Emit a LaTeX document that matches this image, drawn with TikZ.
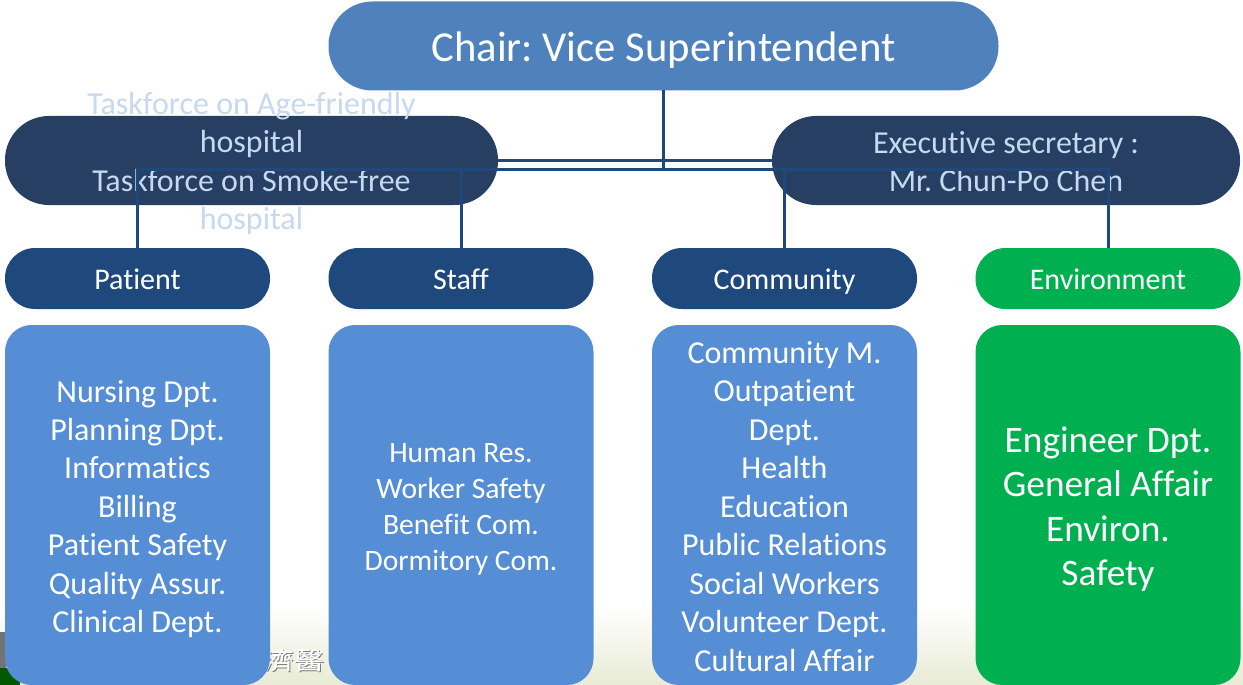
\documentclass[tikz,border=0pt]{standalone}
\usepackage{fontspec}
\setmainfont[Ligatures=NoCommon]{Carlito}
\newfontfamily\cjk{Noto Sans CJK TC}[FakeBold=0.3]
\usetikzlibrary{calc}
\definecolor{chairblue}{HTML}{4F81BD}
\definecolor{navy}{HTML}{263F62}
\definecolor{headblue}{HTML}{1F497D}
\definecolor{listblue}{HTML}{558ED5}
\definecolor{envgreen}{HTML}{00B050}
\definecolor{palet}{HTML}{C6D9F1}
\definecolor{ground}{HTML}{E8EBD5}
\tikzset{
  x=0.75pt,y=-0.75pt,
  pill/.style={inner sep=0pt,outer sep=0pt,align=center,text=white,rounded corners=#1},
  pill/.default=30pt,
  chairbox/.style={pill=33pt,fill=chairblue,minimum width=502.5pt,minimum height=66.75pt},
  sidebox/.style={pill=33pt,fill=navy,minimum height=66.75pt,text=palet},
  headbox/.style={pill=22.5pt,fill=headblue,minimum width=198.75pt,minimum height=45.75pt,text height=20pt,text depth=4pt,font=\fontsize{22.5}{27}\selectfont},
  listbox/.style={pill=20pt,fill=listblue,minimum width=198.75pt,minimum height=270pt,font=\fontsize{24}{28.85}\selectfont},
  sidetext/.style={inner sep=0pt,align=center,text=palet,font=\fontsize{24}{28.9}\selectfont},
  link/.style={draw=headblue,line width=2.25pt},
  marktext/.style={inner sep=0pt,xscale=1.25,transform shape,font=\cjk\fontsize{18}{18}\selectfont},
}
\begin{document}
\frenchspacing
\begin{tikzpicture}
\useasboundingbox (0,0) rectangle (1243,685);
\fill[white] (0,0) rectangle (1243,685);
\fill[top color=white,bottom color=ground] (0,605) rectangle (1243,685);
\fill[black!55!white] (0,632) rectangle (6,672);
\fill[green!35!black] (0,668) rectangle (20,685);
\node[marktext,text=black!50] (markshade) at (295,661) {濟醫};
\node[marktext,text=white] (mark) at (294,660) {濟醫};

\coordinate (hub) at (663,169);
\node[chairbox] (chair) at (663.5,46) {};
\node[inner sep=0pt,text=white,font=\fontsize{32}{38}\selectfont] (chairtext) at (663.5,50.5) {Chair: Vice Superintendent};
\node[sidebox,minimum width=369.75pt] (task) at (251.5,160.5) {};
\node[sidebox,minimum width=351pt] (exec) at (1006,160.5) {};
\node[sidetext] (tasktext) at (251.5,163.5) {Taskforce on Age-friendly\\hospital\\Taskforce on Smoke-free\\hospital};
\node[sidetext] (exectext) at (1006,161.5) {Executive secretary :\\Mr. Chun-Po Chen};

\node[headbox] (patient) at (137.5,278.5) {Patient};
\node[headbox] (staff) at (461,278.5) {Staff};
\node[headbox] (community) at (784.5,278.5) {Community};
\node[headbox,fill=envgreen] (environment) at (1108,278.5) {Environment};

\node[listbox] (l1) at (137.5,505) {};
\node[listbox] (l2) at (461,505) {};
\node[listbox] (l3) at (784.5,505) {};
\node[listbox,fill=envgreen] (l4) at (1108,505) {};
\node[listbox,fill=none] (l1text) at (137.5,509) {Nursing Dpt.\\Planning Dpt.\\Informatics\\Billing\\Patient Safety\\Quality Assur.\\Clinical Dept.};
\node[listbox,fill=none,font=\fontsize{22.2}{27}\selectfont] (l2text) at (461,509.5) {Human Res.\\Worker Safety\\Benefit Com.\\Dormitory Com.};
\node[listbox,fill=none] (l3text) at (784.5,506.5) {Community M.\\Outpatient\\Dept.\\Health\\Education\\Public Relations\\Social Workers\\Volunteer Dept.\\Cultural Affair};
\node[listbox,fill=none,font=\fontsize{28}{33.4}\selectfont] (l4text) at (1108,509) {Engineer Dpt.\\General Affair\\Environ.\\Safety};

\draw[link] (chair.south) -- (chair.south |- hub);
\draw[link] (task.east) -- (exec.west);
\draw[link] (patient.north) |- (environment.north |- hub) -- (environment.north);
\draw[link] (staff.north) -- (staff.north |- hub);
\draw[link] (community.north) -- (community.north |- hub);
\end{tikzpicture}
\end{document}
